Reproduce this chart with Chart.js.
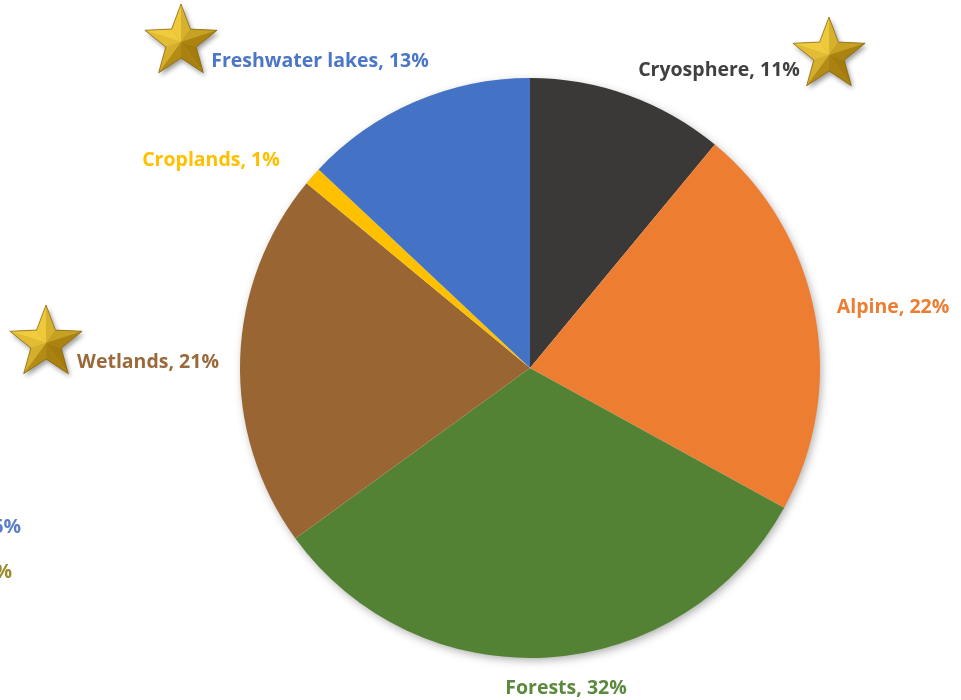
<!DOCTYPE html>
<html>
<head>
<meta charset="utf-8">
<script src="https://cdn.jsdelivr.net/npm/chart.js@4"></script>
<style>
  html, body { margin: 0; padding: 0; background: #fff; }
  #wrap { width: 961px; height: 700px; }
</style>
</head>
<body>
<div id="wrap"><canvas id="pie-chart" width="961" height="700"></canvas></div>
<script>
// habitat shares, clockwise from 12 o'clock
const habitats = ["Cryosphere", "Alpine", "Forests", "Wetlands", "Croplands", "Freshwater lakes"];
const shares = [11, 22, 32, 21, 1, 13];
const sliceColors = ["#3b3838", "#ed7d31", "#548235", "#996633", "#ffc000", "#4472c4"];
const labelColors = ["#404040", "#ed7d31", "#5b8a3f", "#9a6a3c", "#ffc000", "#4c76c6"];

// where each data label sits (text centre)
const labelSpots = [[719, 70], [893, 307], [566, 688], [148, 362], [211, 160], [320, 61]];
// labels that belong to a neighbouring chart, mostly off the left edge
const strayLabels = [["Grasslands, 6%", "#5a7fc8", 21, 527], ["Tundra, 5%", "#9a8a2c", 12, 572]];
// decorative stars: centre x, centre y, outer radius
const stars = [[181, 42, 38], [829, 55, 38], [46, 343, 38]];

const pieShadow = {
    id: "pieShadow",
    beforeDatasetsDraw(chart) {
        const arc = chart.getDatasetMeta(0).data[0];
        if (!arc) return;
        const ctx = chart.ctx;
        ctx.save();
        ctx.shadowColor = "rgba(0,0,0,0.35)";
        ctx.shadowBlur = 10;
        ctx.shadowOffsetX = 2;
        ctx.shadowOffsetY = 3;
        ctx.beginPath();
        ctx.arc(arc.x, arc.y, arc.outerRadius - 1, 0, Math.PI * 2);
        ctx.fillStyle = "#fff";
        ctx.fill();
        ctx.restore();
    }
};

function mix(a, b, t) {
    const pa = [parseInt(a.slice(1, 3), 16), parseInt(a.slice(3, 5), 16), parseInt(a.slice(5, 7), 16)];
    const pb = [parseInt(b.slice(1, 3), 16), parseInt(b.slice(3, 5), 16), parseInt(b.slice(5, 7), 16)];
    const c = pa.map((v, i) => Math.round(v + (pb[i] - v) * t));
    return "rgb(" + c.join(",") + ")";
}

function drawStar(ctx, cx, cy, R) {
    const r = R * 0.42;
    const pts = [];
    for (let i = 0; i < 10; i++) {
        const ang = -Math.PI / 2 + i * Math.PI / 5;
        const rad = i % 2 == 0 ? R : r;
        pts.push([cx + rad * Math.cos(ang), cy + rad * Math.sin(ang)]);
    }
    // soft drop shadow under the whole star
    ctx.save();
    ctx.shadowColor = "rgba(0,0,0,0.4)";
    ctx.shadowBlur = 5;
    ctx.shadowOffsetX = 2;
    ctx.shadowOffsetY = 3;
    ctx.beginPath();
    pts.forEach((p, i) => i == 0 ? ctx.moveTo(p[0], p[1]) : ctx.lineTo(p[0], p[1]));
    ctx.closePath();
    ctx.fillStyle = "#c9a020";
    ctx.fill();
    ctx.restore();

    // bevelled facets, lit from upper left
    const light = -Math.PI * 0.75;
    for (let i = 0; i < 10; i++) {
        const a = pts[i], b = pts[(i + 1) % 10];
        const mid = Math.atan2((a[1] + b[1]) / 2 - cy, (a[0] + b[0]) / 2 - cx);
        const side = i % 2 == 0 ? 0.25 : -0.25;
        let t = 0.5 + 0.5 * Math.cos(mid + side - light);
        ctx.beginPath();
        ctx.moveTo(cx, cy);
        ctx.lineTo(a[0], a[1]);
        ctx.lineTo(b[0], b[1]);
        ctx.closePath();
        ctx.fillStyle = mix("#a27a0c", "#f0cb3e", t);
        ctx.fill();
    }
    ctx.beginPath();
    pts.forEach((p, i) => i == 0 ? ctx.moveTo(p[0], p[1]) : ctx.lineTo(p[0], p[1]));
    ctx.closePath();
    ctx.strokeStyle = "rgba(130,95,10,0.85)";
    ctx.lineWidth = 0.8;
    ctx.stroke();
}

const labelsAndStars = {
    id: "labelsAndStars",
    afterDraw(chart) {
        const ctx = chart.ctx;
        ctx.save();
        ctx.font = "bold 19.5px 'Open Sans', sans-serif";
        ctx.textBaseline = "middle";
        ctx.textAlign = "center";
        for (let i = 0; i < habitats.length; i++) {
            ctx.fillStyle = labelColors[i];
            ctx.fillText(habitats[i] + ", " + shares[i] + "%", labelSpots[i][0], labelSpots[i][1]);
        }
        ctx.textAlign = "right";
        for (const s of strayLabels) {
            ctx.fillStyle = s[1];
            ctx.fillText(s[0], s[2], s[3]);
        }
        ctx.restore();
        for (const s of stars) {
            drawStar(ctx, s[0], s[1], s[2]);
        }
    }
};

new Chart("pie-chart", {
    type: "pie",
    data: {
        labels: habitats,
        datasets: [{
            data: shares,
            backgroundColor: sliceColors,
            borderWidth: 0
        }]
    },
    options: {
        responsive: false,
        animation: false,
        layout: { padding: { left: 240, right: 141, top: 78, bottom: 42 } },
        plugins: {
            legend: { display: false },
            tooltip: { enabled: false }
        }
    },
    plugins: [pieShadow, labelsAndStars]
});
</script>
</body>
</html>
